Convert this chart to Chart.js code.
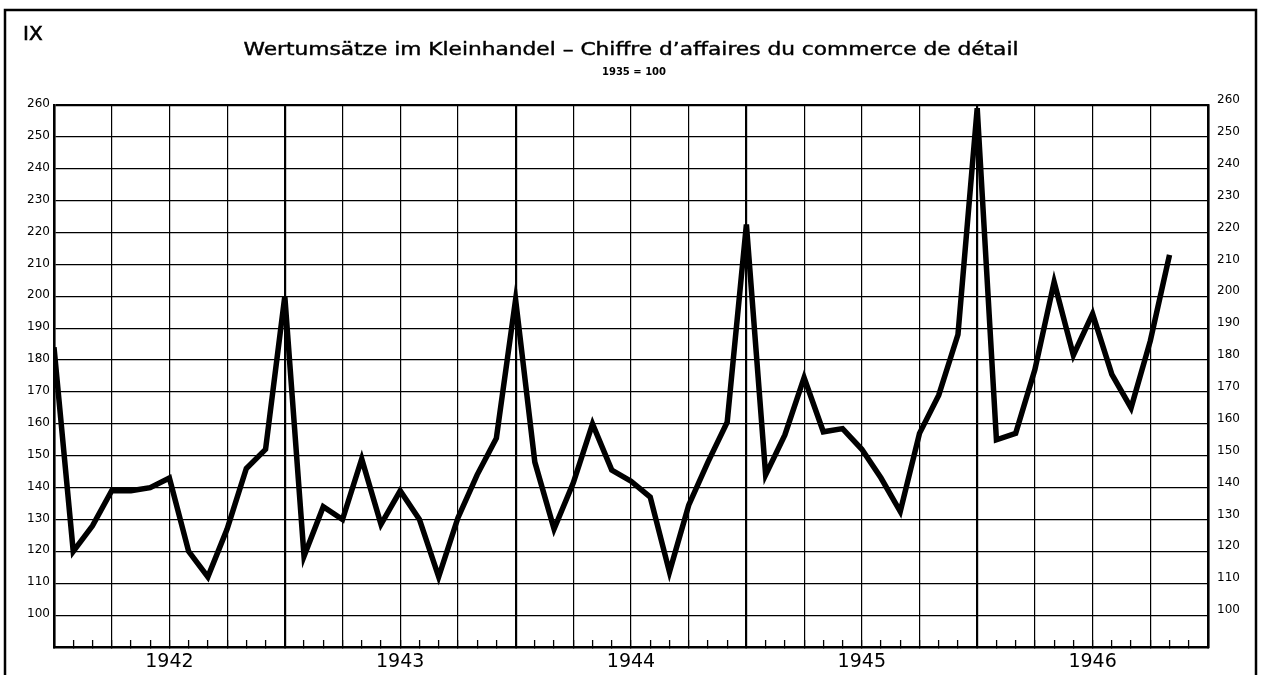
<!DOCTYPE html>
<html>
<head>
<meta charset="utf-8">
<script src="https://cdn.jsdelivr.net/npm/chart.js@4.4.1/dist/chart.umd.min.js"></script>
<style>
  body { margin: 0; background: #fff; }
  #wrap { width: 1269px; height: 675px; position: relative; }
</style>
</head>
<body>
<div id="wrap"><canvas id="retailChart"></canvas></div>
<script>
// Monatswerte, Dezember 1941 bis Oktober 1946 (1935 = 100)
const months = [
  '1941-12',
  '1942-01', '1942-02', '1942-03', '1942-04', '1942-05', '1942-06',
  '1942-07', '1942-08', '1942-09', '1942-10', '1942-11', '1942-12',
  '1943-01', '1943-02', '1943-03', '1943-04', '1943-05', '1943-06',
  '1943-07', '1943-08', '1943-09', '1943-10', '1943-11', '1943-12',
  '1944-01', '1944-02', '1944-03', '1944-04', '1944-05', '1944-06',
  '1944-07', '1944-08', '1944-09', '1944-10', '1944-11', '1944-12',
  '1945-01', '1945-02', '1945-03', '1945-04', '1945-05', '1945-06',
  '1945-07', '1945-08', '1945-09', '1945-10', '1945-11', '1945-12',
  '1946-01', '1946-02', '1946-03', '1946-04', '1946-05', '1946-06',
  '1946-07', '1946-08', '1946-09', '1946-10'
];
const values = [
  184,
  120, 128, 139, 139, 140, 143, 120, 112, 127, 146, 152, 200,
  118.5, 134, 130, 149, 128.5, 139, 130, 112, 130.5, 144, 155.5, 199,
  148, 127, 141.5, 160, 145.5, 142, 137, 113.5, 134.5, 148, 160.5, 222.5,
  144, 156.5, 174.5, 157.5, 158.5, 152, 143, 132.5, 157, 169, 188, 259,
  155, 157, 177, 204.5, 181.5, 194.5, 175.5, 165, 186, 213
];
const years = ['1942', '1943', '1944', '1945', '1946'];
const yMin = 90;
const yMax = 260;
const yStep = 10;
const monthSlots = 60; // Achse reicht bis Ende 1946

const plateNo = 'IX';
const title = 'Wertumsätze im Kleinhandel – Chiffre d’affaires du commerce de détail';
const subtitle = '1935 = 100';

// Rahmen und Überschriften (Titel wird auf die Breite der Vorlage gestreckt)
const framePlugin = {
  id: 'frame',
  afterDraw(chart) {
    const ctx = chart.ctx;
    const area = chart.chartArea;
    const cx = (area.left + area.right) / 2;
    ctx.save();
    ctx.strokeStyle = '#000';
    ctx.lineWidth = 2.5;
    ctx.strokeRect(5, 10, chart.width - 18, chart.height + 20);

    ctx.fillStyle = '#000';
    ctx.textBaseline = 'alphabetic';
    ctx.textAlign = 'left';
    ctx.font = '20px "DejaVu Sans"';
    ctx.lineWidth = 0.6;
    ctx.fillText(plateNo, 23, 40);
    ctx.strokeText(plateNo, 23, 40);

    ctx.font = '17px "DejaVu Sans"';
    const w = ctx.measureText(title).width;
    const sx = 775 / w;
    ctx.save();
    ctx.translate(cx, 55);
    ctx.scale(sx, 1);
    ctx.textAlign = 'center';
    ctx.lineWidth = 0.4;
    ctx.fillText(title, 0, 0);
    ctx.strokeText(title, 0, 0);
    ctx.restore();

    ctx.font = 'bold 10px "DejaVu Sans"';
    ctx.textAlign = 'center';
    ctx.fillText(subtitle, cx + 3, 75);
    ctx.restore();
  }
};

const ctx = document.getElementById('retailChart');
new Chart(ctx, {
  type: 'line',
  data: {
    datasets: [{
      label: title,
      data: values.map((v, i) => ({ x: i, y: v })),
      borderColor: '#000',
      borderWidth: 5.5,
      pointRadius: 0,
      tension: 0,
      fill: false,
      borderJoinStyle: 'miter'
    }]
  },
  options: {
    responsive: true,
    maintainAspectRatio: false,
    animation: false,
    layout: { padding: { top: 105, left: 0, right: 0, bottom: 0 } },
    plugins: {
      legend: { display: false },
      tooltip: { enabled: false },
      title: { display: false }
    },
    scales: {
      x: {
        type: 'linear',
        min: 0,
        max: monthSlots,
        afterBuildTicks: s => {
          s.ticks = [];
          for (let i = 0; i <= monthSlots; i++) s.ticks.push({ value: i });
        },
        ticks: {
          autoSkip: false,
          maxRotation: 0,
          padding: 11,
          color: '#000',
          font: { family: 'DejaVu Sans', size: 19 },
          callback: v => (v % 12 === 6 ? years[(v - 6) / 12] : '')
        },
        grid: {
          color: c => (c.tick && c.tick.value % 3 === 0 ? '#000' : 'rgba(0,0,0,0)'),
          lineWidth: c => (c.tick && c.tick.value % 12 === 0 ? 2.2 : 1.2),
          drawTicks: true,
          tickLength: -7,
          tickColor: '#000',
          tickWidth: 1.3
        },
        border: { color: '#000', width: 2.5 },
        afterFit: s => { s.height = 28; }
      },
      y: {
        position: 'left',
        min: yMin,
        max: yMax,
        ticks: {
          stepSize: yStep,
          padding: 4,
          labelOffset: -1,
          color: '#000',
          font: { family: 'DejaVu Sans', size: 12 },
          callback: v => (v > yMin ? v : '')
        },
        grid: {
          color: '#000',
          lineWidth: c => (c.tick && c.tick.value === yMax ? 2.2 : 1.2),
          drawTicks: false
        },
        border: { color: '#000', width: 2.5 },
        afterFit: s => { s.width = 54; }
      },
      y2: {
        position: 'right',
        min: yMin,
        max: yMax,
        ticks: {
          stepSize: yStep,
          padding: 9,
          labelOffset: -5,
          color: '#000',
          font: { family: 'DejaVu Sans', size: 12 },
          callback: v => (v > yMin ? v : '')
        },
        grid: { drawOnChartArea: false, drawTicks: false },
        border: { color: '#000', width: 2.5 },
        afterFit: s => { s.width = 61; }
      }
    }
  },
  plugins: [framePlugin]
});
</script>
</body>
</html>
